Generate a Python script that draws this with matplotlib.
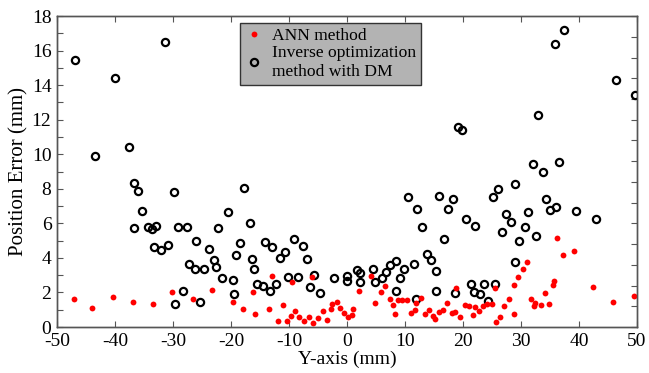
import matplotlib
matplotlib.use('Agg')
import matplotlib.pyplot as plt
import numpy as np

plt.rcParams['font.family'] = ['Liberation Serif', 'DejaVu Serif']
plt.rcParams['axes.unicode_minus'] = False

# ANN method (red dots)
ann_x = [-47.1, -43.9, -40.3, -36.9, -33.4, -30.1, -26.6, -23.3, -19.7, -18.0,
         -16.2, -15.8, -13.4, -12.9, -11.9, -11.1, -10.4, -9.6, -9.4, -9.0,
         -8.2, -7.4, -6.5, -6.1, -5.8, -5.0, -4.2, -3.4, -2.7, -2.6,
         -1.8, -1.2, -0.6, 0.2, 0.9, 1.1, 2.1, 4.2, 4.9, 5.8,
         6.6, 7.4, 8.0, 8.2, 8.8, 9.5, 10.3, 11.1, 11.7, 11.9,
         12.8, 13.4, 14.2, 14.9, 15.1, 15.8, 16.5, 17.3, 18.1, 18.6,
         18.8, 19.5, 20.3, 21.1, 21.8, 22.0, 22.7, 23.4, 24.1, 25.0,
         25.5, 25.7, 26.3, 27.1, 27.9, 28.8, 28.8, 29.5, 30.3, 31.0,
         31.7, 32.2, 32.5, 33.5, 34.1, 34.9, 35.6, 35.7, 36.2, 37.2,
         39.1, 42.5, 45.9, 49.4]
ann_err = [1.65, 1.08, 1.71, 1.44, 1.31, 2.03, 1.65, 2.13, 1.42, 1.04,
           2.05, 0.73, 1.07, 2.94, 0.36, 1.25, 0.36, 0.65, 2.63, 0.94,
           0.56, 0.36, 0.58, 2.92, 0.23, 0.52, 0.90, 0.38, 1.04, 1.31,
           1.42, 1.11, 0.82, 0.56, 0.69, 1.05, 2.11, 2.95, 1.40, 2.00,
           2.40, 1.61, 1.25, 0.75, 1.57, 1.59, 1.55, 0.81, 0.98, 1.38,
           1.67, 0.77, 0.98, 0.65, 0.46, 0.84, 0.96, 1.40, 0.79, 0.86,
           2.25, 0.56, 1.28, 1.21, 0.69, 1.17, 0.90, 1.23, 1.34, 1.34,
           2.26, 0.29, 0.56, 1.19, 1.65, 0.73, 2.44, 2.88, 3.38, 3.78,
           1.65, 1.21, 1.38, 1.28, 1.94, 1.31, 2.44, 2.67, 5.18, 4.16,
           4.38, 2.30, 1.42, 1.82]

# Inverse optimization method with DM (black circles)
dm_x = [-46.9, -40.0, -31.4, -43.5, -37.6, -36.8, -36.0, -35.3, -36.8, -34.3,
        -33.7, -32.9, -33.3, -32.1, -30.8, -29.8, -29.1, -27.5, -26.0, -27.2,
        -26.2, -24.7, -28.3, -29.7, -25.3, -17.7, -20.6, -16.8, -22.3, -23.8,
        -23.0, -22.6, -21.6, -18.4, -19.2, -19.7, -19.4, -16.3, -16.0, -15.6,
        -14.4, -14.2, -12.9, -10.7, -11.6, -12.3, -13.2, -9.2, -7.6, -6.9,
        -10.1, -8.4, -5.7, -6.4, -4.6, -2.2, 0.0, 0.0, 1.7, 2.2,
        2.2, 4.4, 4.9, 6.0, 6.7, 7.4, 8.4, 8.5, 9.1, 9.8,
        10.5, 12.0, 13.0, 11.5, 11.9, 13.8, 14.5, 15.4, 15.3, 15.8,
        17.5, 18.3, 16.7, 18.7, 20.6, 22.1, 21.3, 21.9, 22.9, 23.7,
        19.2, 19.9, 32.1, 36.6, 33.8, 29.0, 26.0, 25.1, 34.3, 27.5,
        28.2, 31.2, 35.0, 36.0, 39.4, 42.9, 26.8, 30.7, 29.7, 32.6,
        29.0, 25.6, 24.3, 37.5, 35.9, 46.4, 49.7, 33.0]
dm_err = [15.43, 14.41, 16.52, 9.88, 10.42, 8.33, 7.89, 6.74, 5.74, 5.76,
          5.66, 5.83, 4.66, 4.47, 4.72, 7.83, 5.76, 5.80, 4.97, 3.64,
          3.36, 3.34, 2.07, 1.31, 1.44, 8.02, 6.68, 6.03, 5.72, 4.53,
          3.89, 3.47, 2.82, 4.85, 4.16, 2.72, 1.90, 3.91, 3.36, 2.48,
          2.38, 4.91, 4.62, 4.32, 3.97, 2.48, 2.07, 5.07, 4.68, 3.91,
          2.92, 2.92, 3.03, 2.34, 1.94, 2.84, 2.95, 2.65, 3.28, 3.13,
          2.59, 3.38, 2.63, 2.84, 3.21, 3.61, 3.84, 2.11, 2.82, 3.38,
          7.50, 6.81, 5.81, 3.64, 1.63, 4.22, 3.90, 3.24, 2.11, 7.60,
          6.85, 7.41, 5.08, 1.98, 6.28, 5.87, 2.49, 2.05, 1.90, 2.49,
          11.59, 11.40, 9.46, 9.58, 8.98, 8.27, 8.00, 7.54, 7.43, 6.52,
          6.08, 6.66, 6.79, 6.93, 6.74, 6.26, 5.51, 5.76, 4.99, 5.24,
          3.78, 2.48, 1.52, 17.2, 16.41, 14.28, 13.43, 12.26]

fig = plt.figure(figsize=(6.49, 3.73), dpi=100)
ax = fig.add_axes([0.0878, 0.1233, 0.8937, 0.8337])

dm, = ax.plot(dm_x, dm_err, 'o', mfc='none', mec='black', mew=1.6, ms=5.2,
              linestyle='none', label='Inverse optimization\nmethod with DM')
ann, = ax.plot(ann_x, ann_err, 'o', color='red', mec='none', ms=4.2,
               linestyle='none', label='ANN method')

ax.set_xlim(-50, 50)
ax.set_ylim(0, 18)
ax.set_xticks(np.arange(-50, 51, 10))
ax.set_yticks(np.arange(0, 19, 2))
ax.set_yticks(np.arange(0, 19, 1), minor=True)
ax.tick_params(which='both', direction='in', length=4, width=0.8,
               color='#555555', top=True, labelsize=14)
ax.tick_params(axis='x', pad=4.5)
ax.tick_params(axis='y', pad=4)
ax.tick_params(axis='y', which='both', right=False)

# right-hand tick marks come from a second axis with its own scale
ax2 = ax.twinx()
ax2.set_ylim(0, 15)
ax2.set_yticks(np.arange(0, 16, 1))
ax2.tick_params(direction='in', length=4, width=0.8, color='#555555',
                labelright=False)

for a in (ax, ax2):
    for s in a.spines.values():
        s.set_color('#555555')
        s.set_linewidth(1.0)

ax.set_xlabel('Y-axis (mm)', fontsize=14, labelpad=0)
ax.set_ylabel('Position Error (mm)', fontsize=15, labelpad=2)

leg = ax.legend(handles=[ann, dm], loc='upper left',
                bbox_to_anchor=(0.316, 0.978), borderaxespad=0,
                fontsize=12.6, frameon=True, fancybox=False,
                facecolor='#b3b3b3', edgecolor='#333333', framealpha=1,
                handlelength=1.0, handletextpad=0.5, labelspacing=0.05,
                borderpad=0.3)
leg.get_frame().set_linewidth(1.0)
leg.set_zorder(10)
ax2.set_zorder(-1)
ax.set_zorder(1)
ax.patch.set_visible(False)

fig.savefig('out.png', dpi=100)
